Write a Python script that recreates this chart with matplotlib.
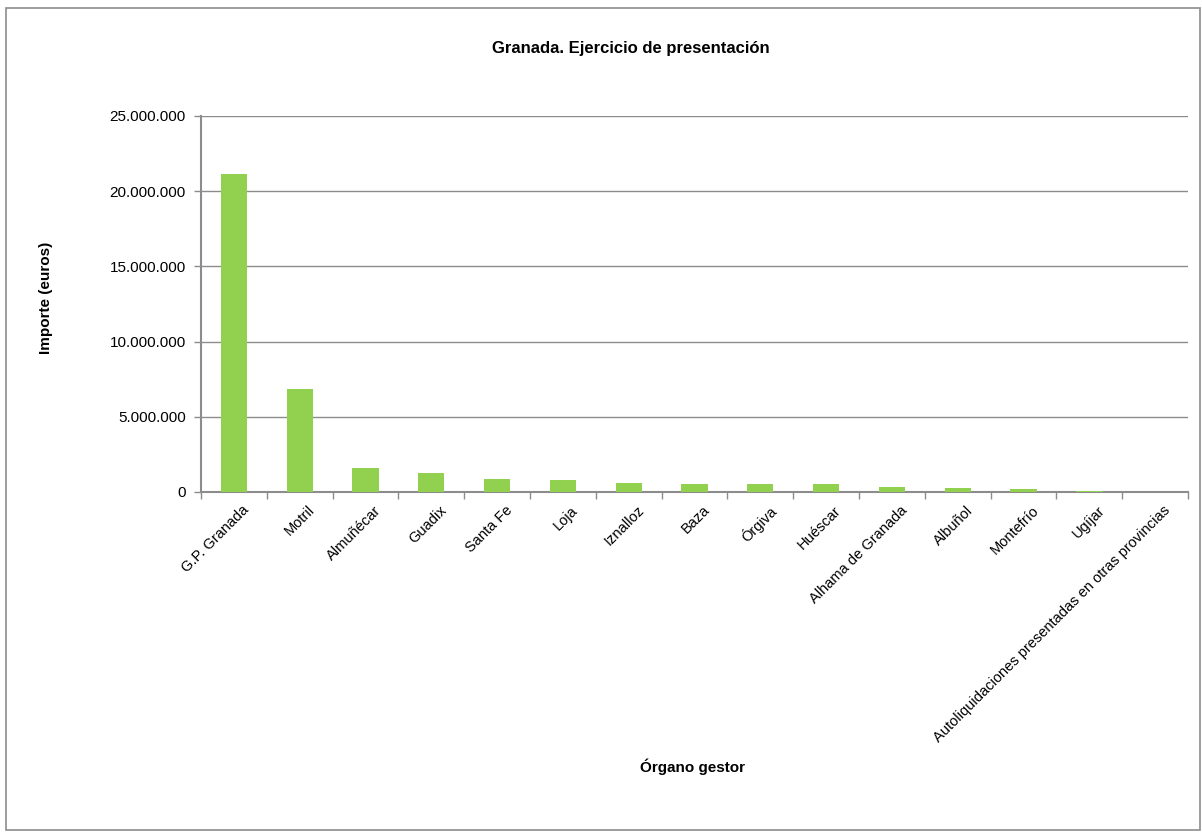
import numpy as np
import matplotlib.pyplot as plt
import matplotlib.transforms as mtransforms
from matplotlib.patches import Rectangle
from matplotlib.ticker import FuncFormatter, MultipleLocator

organos = ["G.P. Granada", "Motril", "Almuñécar", "Guadix", "Santa Fe", "Loja",
           "Iznalloz", "Baza", "Órgiva", "Huéscar", "Alhama de Granada",
           "Albuñol", "Montefrío", "Ugíjar",
           "Autoliquidaciones presentadas en otras provincias"]
importe = [21140000, 6850000, 1620000, 1280000, 860000, 820000,
           620000, 530000, 510000, 510000, 350000,
           270000, 200000, 50000, 10000]

plt.rcParams['font.family'] = ['Liberation Sans', 'DejaVu Sans']
bold_font = ['Liberation Sans Narrow', 'Liberation Sans', 'DejaVu Sans']

fig = plt.figure(figsize=(12.02, 8.32), dpi=100)
fig.patches.append(Rectangle((0.005, 0.003), 0.993, 0.987, transform=fig.transFigure,
                             fill=False, edgecolor='#8c8c8c', linewidth=1.2))
ax = fig.add_axes([0.1672, 0.4087, 0.8212, 0.4519])

x = np.arange(len(organos))
ax.bar(x, importe, width=0.4, color='#92D050', zorder=3)

ax.set_xlim(-0.5, len(organos) - 0.5)
ax.set_ylim(0, 25000000)
ax.yaxis.set_major_locator(MultipleLocator(5000000))
ax.yaxis.set_major_formatter(FuncFormatter(lambda v, p: f"{int(v):,}".replace(",", ".")))
ax.grid(axis='y', color='#8c8c8c', linewidth=1, zorder=0)

ax.set_xticks(x)
ax.set_xticklabels(organos, rotation=45, ha='right', rotation_mode='anchor', fontsize=10.5)
ax.set_xticks(np.arange(-0.5, len(organos)), minor=True)
ax.tick_params(axis='x', which='major', length=0, pad=8)
ax.tick_params(axis='x', which='minor', length=5, color='#8c8c8c', width=1)
ax.tick_params(axis='y', length=5, color='#8c8c8c', width=1, labelsize=11, pad=6)
shift = mtransforms.ScaledTranslation(8 / 100, 0, fig.dpi_scale_trans)
for lbl in ax.get_xticklabels():
    lbl.set_transform(lbl.get_transform() + shift)

for s in ['top', 'right']:
    ax.spines[s].set_visible(False)
for s in ['left', 'bottom']:
    ax.spines[s].set_color('#8c8c8c')
    ax.spines[s].set_linewidth(1.5)

fig.text(0.525, 0.942, "Granada. Ejercicio de presentación", ha='center', va='center',
         fontsize=12, fontweight='bold', family=bold_font)
fig.text(0.038, 0.642, "Importe (euros)", ha='center', va='center', rotation=90,
         fontsize=11, fontweight='bold', family=bold_font)
fig.text(0.5765, 0.079, "Órgano gestor", ha='center', va='center',
         fontsize=11, fontweight='bold', family=bold_font)

fig.savefig('out.png', dpi=100)
